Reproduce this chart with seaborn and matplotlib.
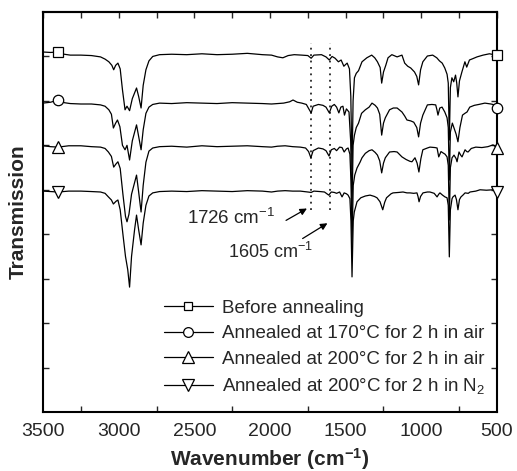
import pandas as pd
import seaborn as sns
import matplotlib.pyplot as plt
from matplotlib.lines import Line2D

# spectra: (wavenumber, transmission in arbitrary offset units)
before = [(3500, 8.10), (3450, 8.09), (3400, 8.10), (3360, 8.05), (3320, 8.03), (3250, 8.03), (3180, 8.02),
          (3120, 7.99), (3090, 7.94), (3065, 7.88), (3045, 7.80), (3033, 7.70), (3020, 7.80), (3005, 7.85),
          (2990, 7.72), (2975, 7.25), (2958, 6.80), (2945, 6.88), (2928, 6.78), (2910, 7.05), (2882, 7.29),
          (2868, 7.10), (2852, 6.84), (2838, 7.35), (2820, 7.70), (2800, 7.90), (2775, 8.00), (2730, 8.04),
          (2650, 8.05), (2550, 8.04), (2450, 8.06), (2350, 8.04), (2250, 8.05), (2150, 8.07), (2050, 8.04),
          (1990, 8.03), (1950, 7.99), (1915, 7.97), (1880, 8.02), (1840, 8.04), (1790, 8.03), (1750, 8.02),
          (1728, 7.96), (1710, 8.03), (1660, 8.04), (1630, 7.99), (1608, 7.92), (1590, 8.00), (1570, 7.96),
          (1548, 7.88), (1530, 7.92), (1512, 7.78), (1500, 7.82), (1490, 7.85), (1475, 7.72), (1466, 7.10),
          (1458, 5.45), (1451, 7.00), (1442, 7.52), (1430, 7.62), (1415, 7.68), (1392, 7.88), (1360, 7.97),
          (1328, 8.03), (1308, 7.97), (1290, 7.88), (1272, 7.75), (1262, 7.40), (1250, 7.65), (1235, 7.80),
          (1220, 7.97), (1195, 8.04), (1160, 7.99), (1128, 8.03), (1110, 7.85), (1090, 7.78), (1070, 7.74),
          (1045, 7.65), (1030, 7.55), (1018, 7.36), (1005, 7.70), (990, 7.88), (960, 8.01), (925, 8.03),
          (898, 7.97), (880, 7.90), (862, 7.85), (845, 7.74), (830, 7.60), (822, 7.40), (815, 6.12),
          (808, 7.30), (798, 7.52), (786, 7.43), (774, 7.58), (766, 7.40), (758, 7.09), (748, 7.45),
          (732, 7.65), (712, 7.88), (700, 7.76), (682, 7.92), (660, 7.95), (632, 7.99), (592, 8.03),
          (550, 8.06), (520, 8.04), (500, 8.03)]

air170 = [(3500, 6.95), (3450, 6.97), (3400, 7.02), (3360, 6.96), (3320, 6.94), (3250, 6.93), (3180, 6.93),
          (3120, 6.91), (3090, 6.88), (3065, 6.80), (3048, 6.70), (3035, 6.39), (3020, 6.50), (3008, 6.57),
          (2992, 6.42), (2975, 6.00), (2958, 5.90), (2945, 6.00), (2928, 5.67), (2910, 6.10), (2882, 6.46),
          (2868, 6.20), (2852, 5.90), (2838, 6.35), (2820, 6.72), (2800, 6.86), (2775, 6.92), (2730, 6.95),
          (2650, 6.94), (2550, 6.96), (2450, 6.95), (2350, 6.94), (2250, 6.96), (2150, 6.95), (2050, 6.94),
          (1990, 6.93), (1950, 6.94), (1910, 6.95), (1870, 6.98), (1848, 7.02), (1820, 6.97), (1790, 6.95),
          (1760, 6.92), (1740, 6.80), (1728, 6.73), (1715, 6.88), (1680, 6.92), (1650, 6.90), (1630, 6.86),
          (1608, 6.73), (1592, 6.88), (1575, 6.92), (1560, 6.86), (1545, 6.73), (1532, 6.86), (1518, 6.88),
          (1508, 6.68), (1495, 6.82), (1478, 6.75), (1467, 6.10), (1458, 4.55), (1451, 6.00), (1442, 6.23),
          (1430, 6.40), (1415, 6.50), (1395, 6.72), (1370, 6.80), (1345, 6.86), (1326, 6.95), (1305, 6.90),
          (1290, 6.84), (1275, 6.70), (1262, 6.23), (1250, 6.50), (1238, 6.62), (1210, 6.80), (1185, 6.84),
          (1160, 6.84), (1128, 6.75), (1110, 6.66), (1095, 6.57), (1070, 6.55), (1050, 6.52), (1030, 6.40),
          (1018, 6.19), (1005, 6.50), (990, 6.68), (960, 6.91), (930, 6.92), (905, 6.91), (897, 6.80),
          (890, 6.68), (878, 6.84), (863, 6.86), (845, 6.75), (830, 6.62), (822, 6.40), (815, 5.22),
          (808, 6.30), (795, 6.50), (780, 6.35), (770, 6.25), (758, 6.08), (745, 6.40), (728, 6.68),
          (712, 6.72), (698, 6.75), (680, 6.86), (650, 6.90), (620, 6.92), (580, 6.95), (540, 6.93),
          (515, 6.91), (500, 6.84)]

air200 = [(3500, 5.99), (3450, 5.97), (3400, 5.96), (3330, 5.99), (3250, 5.99), (3180, 5.97), (3120, 5.96),
          (3090, 5.93), (3068, 5.85), (3048, 5.75), (3033, 5.51), (3018, 5.58), (3005, 5.63), (2990, 5.48),
          (2972, 4.90), (2955, 4.40), (2945, 4.28), (2932, 4.45), (2915, 4.90), (2882, 5.33), (2868, 4.95),
          (2852, 4.50), (2838, 5.10), (2820, 5.62), (2800, 5.87), (2775, 5.94), (2730, 5.97), (2650, 5.98),
          (2550, 5.96), (2450, 5.99), (2350, 5.97), (2250, 5.98), (2150, 5.99), (2050, 5.97), (1990, 5.96),
          (1950, 5.98), (1900, 5.99), (1850, 5.97), (1800, 5.96), (1765, 5.94), (1745, 5.86), (1730, 5.72),
          (1715, 5.88), (1680, 5.94), (1650, 5.92), (1630, 5.88), (1610, 5.76), (1595, 5.90), (1575, 5.93),
          (1560, 5.88), (1540, 5.96), (1524, 5.95), (1510, 5.85), (1495, 5.92), (1484, 5.94), (1472, 5.80),
          (1465, 5.20), (1458, 3.76), (1450, 5.10), (1440, 5.33), (1425, 5.49), (1405, 5.62), (1392, 5.72),
          (1370, 5.82), (1345, 5.88), (1326, 5.90), (1305, 5.84), (1290, 5.78), (1275, 5.65), (1262, 5.38),
          (1250, 5.60), (1238, 5.72), (1210, 5.85), (1180, 5.86), (1160, 5.85), (1128, 5.74), (1100, 5.68),
          (1075, 5.64), (1062, 5.63), (1042, 5.72), (1028, 5.60), (1016, 5.40), (1003, 5.70), (990, 5.90),
          (960, 5.94), (943, 5.96), (910, 5.95), (896, 5.94), (885, 5.74), (870, 5.86), (857, 5.83),
          (843, 5.80), (830, 5.74), (822, 5.55), (815, 4.32), (808, 5.50), (797, 5.72), (784, 5.78),
          (770, 5.70), (764, 5.63), (751, 5.85), (740, 5.78), (731, 5.74), (711, 5.90), (700, 5.86),
          (691, 5.85), (670, 5.93), (640, 5.96), (600, 5.95), (560, 5.97), (526, 6.01), (510, 5.97),
          (500, 5.94)]

n2_200 = [(3500, 4.97), (3450, 4.96), (3400, 4.95), (3330, 4.97), (3250, 4.97), (3180, 4.96), (3120, 4.95),
          (3090, 4.92), (3068, 4.84), (3048, 4.77), (3035, 4.68), (3018, 4.74), (3005, 4.77), (2990, 4.55),
          (2972, 4.00), (2955, 3.50), (2940, 3.20), (2928, 2.81), (2915, 3.50), (2895, 4.10), (2882, 4.43),
          (2868, 4.10), (2852, 3.76), (2838, 4.25), (2820, 4.65), (2800, 4.86), (2775, 4.93), (2730, 4.96),
          (2650, 4.97), (2550, 4.96), (2450, 4.98), (2350, 4.97), (2250, 4.96), (2150, 4.98), (2050, 4.97),
          (1990, 4.95), (1950, 4.97), (1900, 4.98), (1850, 4.97), (1800, 4.97), (1750, 4.95), (1728, 4.94),
          (1710, 4.97), (1670, 4.96), (1640, 4.95), (1612, 4.88), (1595, 4.95), (1575, 4.94), (1560, 4.92),
          (1540, 4.95), (1524, 4.84), (1510, 4.93), (1495, 4.91), (1484, 4.88), (1472, 4.80), (1465, 4.30),
          (1458, 3.04), (1450, 4.30), (1443, 4.50), (1425, 4.73), (1400, 4.82), (1370, 4.86), (1339, 4.88),
          (1310, 4.85), (1293, 4.82), (1273, 4.73), (1255, 4.55), (1242, 4.72), (1230, 4.82), (1200, 4.91),
          (1187, 4.93), (1150, 4.94), (1121, 4.95), (1095, 4.93), (1075, 4.93), (1050, 4.92), (1029, 4.93),
          (1022, 4.85), (1015, 4.73), (1005, 4.85), (989, 4.93), (960, 4.95), (943, 4.95), (915, 4.92),
          (896, 4.84), (885, 4.90), (877, 4.93), (860, 4.88), (844, 4.84), (830, 4.82), (822, 4.65),
          (815, 3.49), (808, 4.55), (797, 4.80), (791, 4.84), (777, 4.88), (768, 4.78), (758, 4.55),
          (748, 4.78), (738, 4.84), (725, 4.88), (711, 4.93), (690, 4.92), (678, 4.95), (640, 4.97),
          (612, 5.00), (570, 4.99), (526, 5.00), (510, 4.98), (500, 4.95)]

labels = ["Before annealing",
          "Annealed at 170\u00b0C for 2 h in air",
          "Annealed at 200\u00b0C for 2 h in air",
          "Annealed at 200\u00b0C for 2 h in N$_2$"]
markers = ["s", "o", "^", "v"]
marker_wn = [3400, 500]
peak_wn = [1726, 1605]

frames = []
for lab, spec in zip(labels, [before, air170, air200, n2_200]):
    d = pd.DataFrame(spec, columns=["wavenumber", "transmission"])
    d["sample"] = lab
    frames.append(d)
df = pd.concat(frames, ignore_index=True)

sns.set_theme(style="ticks")
plt.rcParams['font.family'] = ['Liberation Sans', 'DejaVu Sans']
plt.rcParams['mathtext.fontset'] = 'custom'
plt.rcParams['mathtext.rm'] = 'Liberation Sans'
plt.rcParams['mathtext.bf'] = 'Liberation Sans:bold'
plt.rcParams['mathtext.default'] = 'regular'

fig = plt.figure(figsize=(5.17, 4.71), dpi=100)
ax = fig.add_axes([0.0832, 0.1253, 0.8781, 0.8492])

sns.lineplot(data=df, x="wavenumber", y="transmission", hue="sample", palette=["black"] * 4,
             estimator=None, linewidth=0.9, legend=False, ax=ax)

# open markers at both ends of every trace
marker_size = {"s": 6.5, "o": 7.5, "^": 8.5, "v": 8.5}
handles = []
for lab, m in zip(labels, markers):
    sub = df[(df["sample"] == lab) & (df["wavenumber"].isin(marker_wn))]
    ax.plot(sub["wavenumber"], sub["transmission"], m, ls="none", ms=marker_size[m], mfc="white",
            mec="black", mew=0.9, clip_on=False, zorder=5)
    handles.append(Line2D([], [], color="black", lw=0.9, marker=m, ms=marker_size[m] - 0.5,
                          mfc="white", mec="black", mew=0.9))

# dotted guides and arrows for the two bands
ax.vlines(peak_wn, 4.55, 8.30, colors="black", linestyles=(0, (1.2, 3)), linewidth=1.1)
ax.annotate("", xy=(1740, 4.61), xytext=(1910, 4.28),
            arrowprops=dict(arrowstyle="-|>", color="black", lw=0.9, mutation_scale=10))
ax.annotate("", xy=(1605, 4.28), xytext=(1800, 3.87),
            arrowprops=dict(arrowstyle="-|>", color="black", lw=0.9, mutation_scale=10))
ax.text(2550, 4.37, "1726 cm$^{-1}$", fontsize=13.5, ha="left", va="center")
ax.text(2278, 3.60, "1605 cm$^{-1}$", fontsize=13, ha="left", va="center")

ax.legend(handles, labels, loc="lower left", bbox_to_anchor=(0.25, 0.02), frameon=False,
          fontsize=13.5, handlelength=2.6, handletextpad=0.5, labelspacing=0.45, borderaxespad=0)

ax.set_xlim(3500, 500)
ax.set_ylim(0, 9)
ax.set_xticks([3500, 3000, 2500, 2000, 1500, 1000, 500])
ax.set_xticks([3250, 2750, 2250, 1750, 1250, 750], minor=True)
ax.set_yticks([1, 2, 3, 4, 5, 6, 7, 8])
ax.tick_params(axis="x", which="major", length=0, top=False, labelsize=14, pad=8)
ax.tick_params(axis="x", which="minor", direction="in", length=4, width=1, top=False, bottom=True)
ax.tick_params(axis="y", direction="in", length=4, width=1, left=True, right=True, labelleft=False)
for s in ax.spines.values():
    s.set_linewidth(1.5)
    s.set_color("black")

# top edge carries a tick every 250 cm-1
top = ax.secondary_xaxis("top")
top.set_xticks(list(range(500, 3501, 250)))
top.tick_params(direction="in", length=4, width=1, labeltop=False)
top.spines["top"].set_linewidth(1.5)

ax.set_xlabel("Wavenumber (cm$^{-1}$)", fontsize=15, fontweight="bold", labelpad=4)
ax.set_ylabel("Transmission", fontsize=15, fontweight="bold", labelpad=11)

fig.savefig("out.png", dpi=100)
